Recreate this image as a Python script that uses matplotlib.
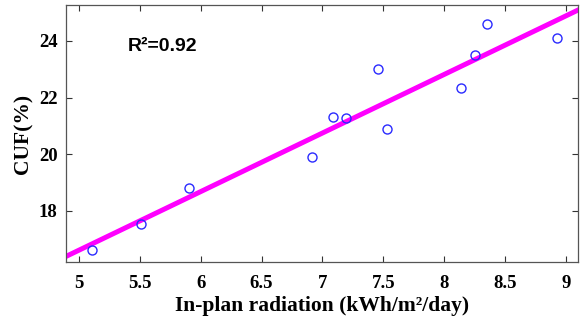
import numpy as np
import matplotlib
matplotlib.use('Agg')
import matplotlib.pyplot as plt

radiation = [5.11, 5.51, 5.90, 6.91, 7.09, 7.19, 7.46, 7.53, 8.14, 8.25, 8.35, 8.93]
cuf = [16.64, 17.53, 18.80, 19.91, 21.33, 21.27, 23.00, 20.88, 22.35, 23.52, 24.60, 24.10]
xticks = [5, 5.5, 6, 6.5, 7, 7.5, 8, 8.5, 9]
xticklabels = ['5', '5.5', '6', '6.5', '7', '7.5', '8', '8.5', '9']
yticks = [18, 20, 22, 24]

fig = plt.figure(figsize=(5.83, 3.24), dpi=100)
ax = fig.add_axes([66 / 583, 1 - 262 / 324, 512 / 583, 257 / 324])

xlim = (4.893, 9.099)
# линейная аппроксимация
k, b = np.polyfit(radiation, cuf, 1)
xs = np.array(xlim)
ax.plot(xs, k * xs + b, color='#ff00ff', lw=3.6, zorder=2)
ax.plot(radiation, cuf, 'o', mfc='none', mec='#2a2aff', mew=1.0, ms=6.5, zorder=3)

ax.set_xlim(xlim)
ax.set_ylim(16.2, 25.27)
ax.set_xticks(xticks)
ax.set_xticklabels(xticklabels)
ax.set_yticks(yticks)

for lab in ax.get_xticklabels() + ax.get_yticklabels():
    lab.set_fontfamily('Liberation Serif')
    lab.set_fontweight('bold')
    lab.set_fontsize(13.5)

ax.tick_params(direction='in', top=True, right=True, length=4, width=0.8, color='#333333')
ax.tick_params(axis='x', pad=9)
ax.tick_params(axis='y', pad=6)
for s in ax.spines.values():
    s.set_color('#555555')
    s.set_linewidth(0.9)

ax.set_xlabel('In-plan radiation (kWh/m²/day)', fontfamily='Liberation Serif', fontweight='bold', fontsize=15.5, labelpad=3)
ax.set_ylabel('CUF(%)', fontfamily='Liberation Serif', fontweight='bold', fontsize=15.5, labelpad=4)

ax.text(5.40, 23.8, 'R²=0.92', fontfamily='Liberation Sans', fontweight='bold', fontsize=14, va='center', ha='left')

fig.savefig('out.png', dpi=100)
